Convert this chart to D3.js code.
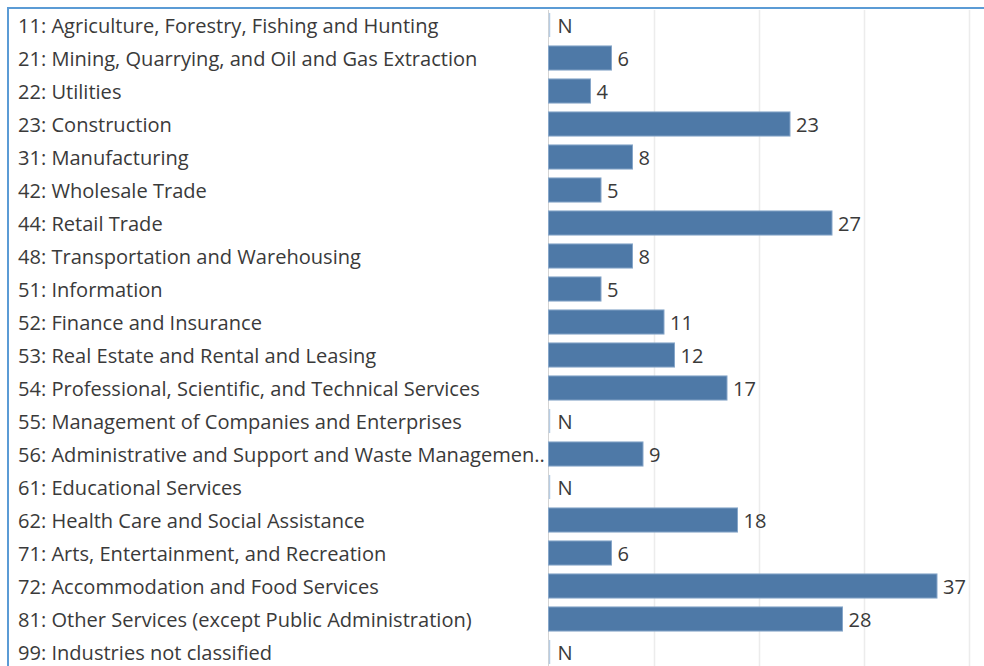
<!DOCTYPE html>
<html>
<head>
<meta charset="utf-8">
<script src="https://cdn.jsdelivr.net/npm/d3@7"></script>
<style>
  html, body { margin: 0; padding: 0; background: #fff; }
  svg { display: block; }
</style>
</head>
<body>
<svg id="chart" width="984" height="666"></svg>
<script>
// Establishments by industry sector (N = suppressed value)
const categories = [
  "11: Agriculture, Forestry, Fishing and Hunting",
  "21: Mining, Quarrying, and Oil and Gas Extraction",
  "22: Utilities",
  "23: Construction",
  "31: Manufacturing",
  "42: Wholesale Trade",
  "44: Retail Trade",
  "48: Transportation and Warehousing",
  "51: Information",
  "52: Finance and Insurance",
  "53: Real Estate and Rental and Leasing",
  "54: Professional, Scientific, and Technical Services",
  "55: Management of Companies and Enterprises",
  "56: Administrative and Support and Waste Managemen..",
  "61: Educational Services",
  "62: Health Care and Social Assistance",
  "71: Arts, Entertainment, and Recreation",
  "72: Accommodation and Food Services",
  "81: Other Services (except Public Administration)",
  "99: Industries not classified"
];
const values = [null, 6, 4, 23, 8, 5, 27, 8, 5, 11, 12, 17, null, 9, null, 18, 6, 37, 28, null];
const gridTicks = [10, 20, 30, 40];

const svg = d3.select("#chart");
const W = 984, H = 666;
const fontFamily = "'Open Sans', sans-serif";

// size the label font so the longest labels fill the label column
const probe = svg.append("text").attr("font-family", fontFamily).attr("font-size", 19);
const measure = s => { probe.text(s); return probe.node().getComputedTextLength(); };
const fontSize = 19 * 948 / (measure(categories[0]) + measure(categories[13]));
probe.remove();

const x = d3.scaleLinear().domain([0, 40]).range([548.5, 968.5]);
const y = d3.scaleBand().domain(categories).range([8.5, 8.5 + 33 * categories.length]).paddingInner(0.27).paddingOuter(0.135);

// vertical gridlines
svg.append("g").selectAll("line").data(gridTicks).join("line")
  .attr("x1", d => Math.round(x(d)) + 0.5).attr("x2", d => Math.round(x(d)) + 0.5)
  .attr("y1", 10).attr("y2", H)
  .attr("stroke", "#ececec").attr("stroke-width", 1.5);

// zero axis line
svg.append("line")
  .attr("x1", x(0)).attr("x2", x(0)).attr("y1", 10).attr("y2", H)
  .attr("stroke", "#d4d4d4").attr("stroke-width", 1);

const rows = svg.append("g").selectAll("g").data(categories).join("g");

// category labels
rows.append("text")
  .attr("x", 18)
  .attr("y", d => y(d) + y.bandwidth() / 2 + 1)
  .attr("dy", "0.35em")
  .attr("font-family", fontFamily)
  .attr("font-size", fontSize)
  .attr("fill", "#3a3a3a")
  .text(d => d);

// bars
rows.filter((d, i) => values[i] !== null).append("rect")
  .attr("x", x(0))
  .attr("y", d => y(d))
  .attr("width", (d) => x(values[categories.indexOf(d)]) - x(0))
  .attr("height", y.bandwidth())
  .attr("fill", "#4e79a7")
  .attr("stroke", "#86a6c9")
  .attr("stroke-width", 1);

// suppressed rows: hairline bar at zero
rows.filter((d, i) => values[i] === null).append("line")
  .attr("x1", x(0) + 1).attr("x2", x(0) + 1)
  .attr("y1", d => y(d)).attr("y2", d => y(d) + y.bandwidth())
  .attr("stroke", "#b8cde3").attr("stroke-width", 1.5);

// value labels
rows.append("text")
  .attr("x", (d, i) => x(values[i] === null ? 0 : values[i]) + (values[i] === null ? 9 : 6))
  .attr("y", d => y(d) + y.bandwidth() / 2 + 1)
  .attr("dy", "0.35em")
  .attr("font-family", fontFamily)
  .attr("font-size", fontSize)
  .attr("fill", "#3a3a3a")
  .text((d, i) => values[i] === null ? "N" : values[i]);

// panel border (top and left)
svg.append("line").attr("x1", 7).attr("x2", W).attr("y1", 8).attr("y2", 8)
  .attr("stroke", "#5b9bd5").attr("stroke-width", 2);
svg.append("line").attr("x1", 8).attr("x2", 8).attr("y1", 7).attr("y2", H)
  .attr("stroke", "#5b9bd5").attr("stroke-width", 2);
</script>
</body>
</html>
